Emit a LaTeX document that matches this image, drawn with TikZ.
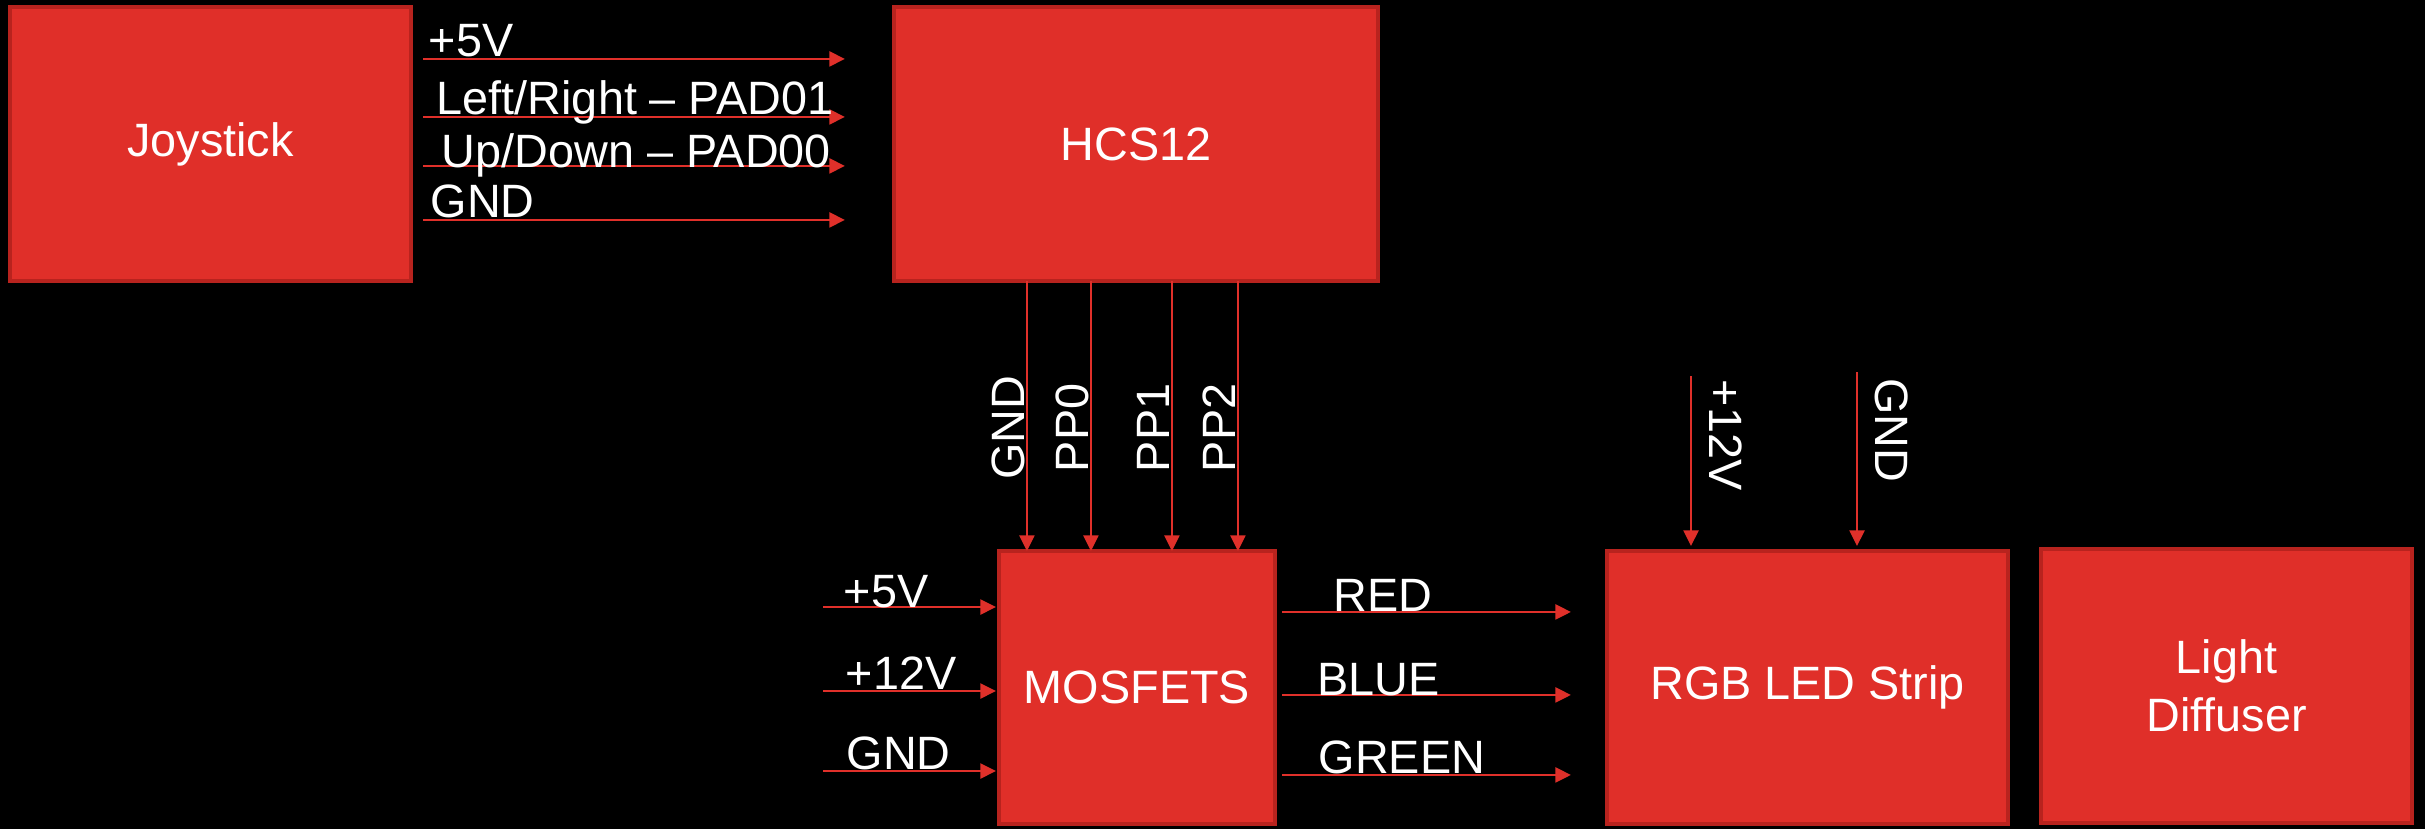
\documentclass[tikz,border=0pt]{standalone}
\usepackage{fontspec}
\setmainfont{Liberation Sans}
\usetikzlibrary{arrows.meta}
\definecolor{boxred}{HTML}{E02F29}
\definecolor{boxedge}{HTML}{B8231E}
\definecolor{wirered}{HTML}{E0302A}

\begin{document}
\begin{tikzpicture}[x=0.01cm,y=-0.01cm,>={Triangle[length=1.55mm,width=1.5mm]},
  blk/.style={fill=boxred,draw=boxedge,line width=1.1pt,inner sep=0pt,outer sep=0pt,
    text=white,align=center,font=\fontsize{13.3}{16.5}\selectfont},
  lab/.style={text=white,inner sep=0pt,font=\fontsize{13.3}{16.5}\selectfont},
  wire/.style={draw=wirered,line width=0.6pt}]
  \fill[black] (0,0) rectangle (2425,829);
  \useasboundingbox (0,0) rectangle (2425,829);
  % blocks
  \node[blk,minimum width=4.01cm,minimum height=2.74cm] (joy) at (210.5,144) {Joystick};
  \node[blk,minimum width=4.84cm,minimum height=2.74cm] (hcs) at (1136,144) {HCS12};
  \node[blk,minimum width=2.76cm,minimum height=2.73cm] (mos) at (1137,687.5) {MOSFETS};
  \node[blk,minimum width=4.01cm,minimum height=2.73cm] (rgb) at (1807.5,687.5) {RGB LED Strip};
  \node[blk,minimum width=3.71cm,minimum height=2.74cm] (dif) at (2226.5,686) {Light\\Diffuser};
  % joystick -> HCS12
  \foreach \y/\b/\d/\t [count=\i] in {52/50/5/+5V, 110/108/13/{Left/Right -- PAD01},
    159/161/18/{Up/Down -- PAD00}, 213/211/7/GND}
  {
    \draw[wire,->] ([shift={(12,\y)}]joy.north east) -- ([shift={(-49,\y)}]hcs.north west);
    \node[lab,anchor=base west] (js\i) at ([shift={(12+\d,\b)}]joy.north east) {\t};
  }
  % HCS12 -> MOSFETS
  \foreach \o/\t [count=\i] in {28/GND,92/PP0,173/PP1,239/PP2}
  {
    \coordinate (pin\i) at ([shift={(\o,0)}]mos.north west);
    \draw[wire,->] (pin\i |- hcs.south) -- (pin\i);
    \node[lab,rotate=90,anchor=base] (pl\i) at ([shift={(-2,-123)}]pin\i) {\t};
  }
  % supplies into MOSFETS
  \foreach \y/\b/\d/\t [count=\i] in {607/607/843/+5V, 691/689/845/+12V, 771/769/846/GND}
  {
    \coordinate (in\i) at (823,\y);
    \draw[wire,->,shorten >=0.3mm] (in\i) -- (in\i -| mos.west);
    \node[lab,anchor=base west] (il\i) at (\d,\b) {\t};
  }
  % MOSFETS -> RGB strip
  \foreach \y/\b/\d/\t [count=\i] in {61/611/1333/RED, 144/695/1317/BLUE, 224/773/1318/GREEN}
  {
    \draw[wire,->] ([shift={(7,\y)}]mos.north east) -- ([shift={(-36,\y)}]rgb.north west);
    \node[lab,anchor=base west] (ol\i) at (\d,\b) {\t};
  }
  % supplies into RGB strip
  \foreach \o/\s/\ly/\t [count=\i] in {84/376/435/+12V, 250/372/430/GND}
  {
    \coordinate (src\i) at (1607+\o,\s);
    \draw[wire,->,shorten >=0.5mm] (src\i) -- (src\i |- rgb.north);
    \node[lab,rotate=-90,anchor=base] (tl\i) at (1625+\o,\ly) {\t};
  }
\end{tikzpicture}
\end{document}
